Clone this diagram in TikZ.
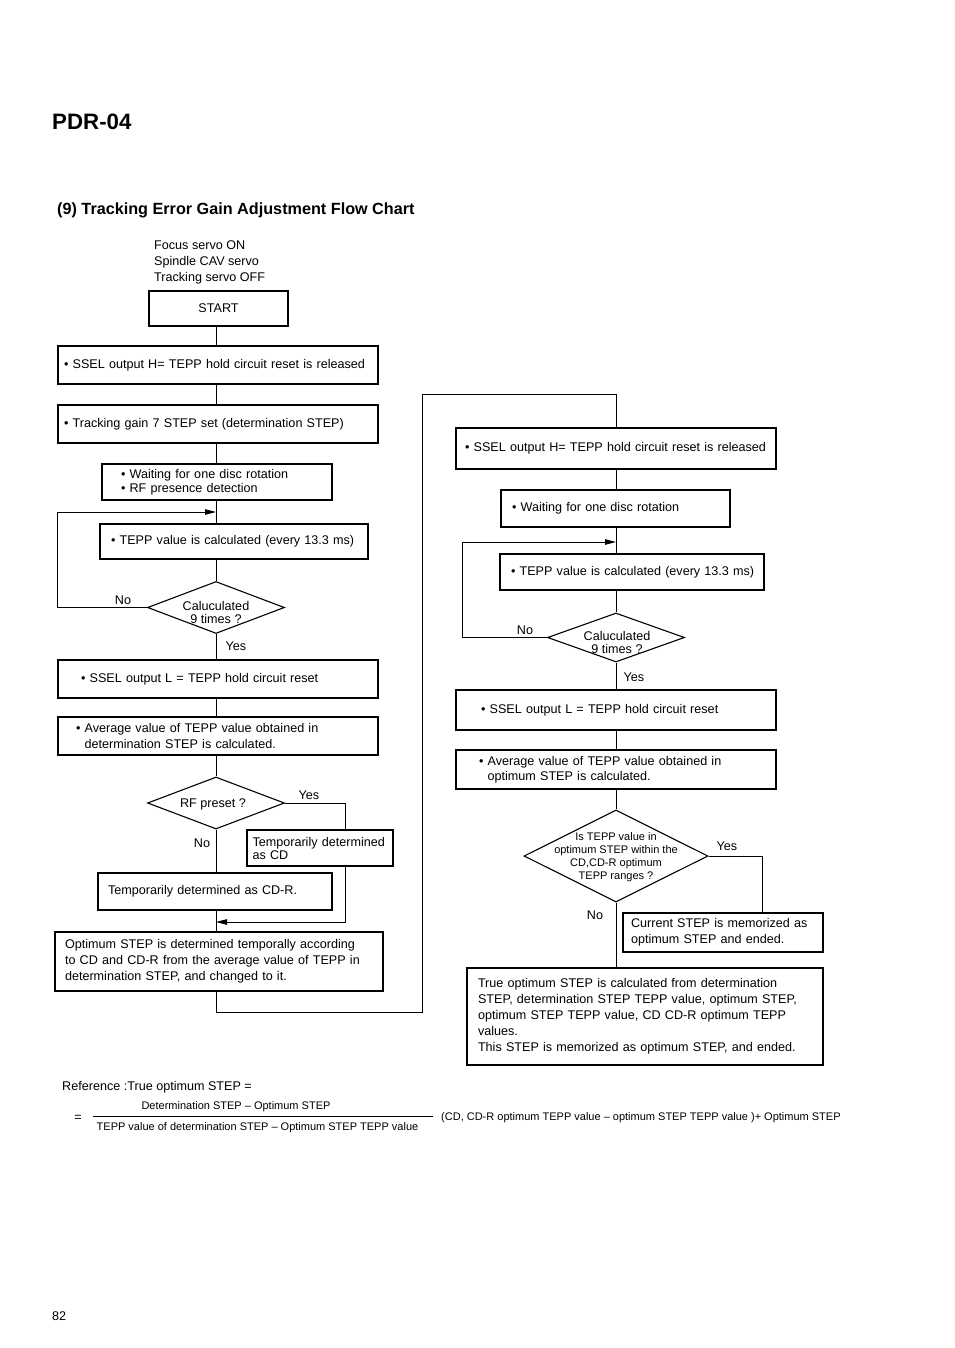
\documentclass[tikz,border=0pt]{standalone}
\usepackage{fontspec}
\setmainfont{Liberation Sans}
\usetikzlibrary{arrows.meta,shapes.geometric}
\newcommand{\fsm}{\fontsize{12.6}{15.5}\selectfont}
\newcommand{\fsmall}{\fontsize{11}{13}\selectfont}
\begin{document}
\begin{tikzpicture}[x=1pt,y=-1pt,
  box/.style={draw, line width=1.1pt, inner ysep=0pt, align=left, font=\fsm},
  dia/.style={draw, diamond, line width=1.1pt, inner sep=0pt},
  lbl/.style={font=\fsm, inner sep=0pt},
  conn/.style={line width=1pt},
  arr/.style={line width=1pt, -{Triangle[length=11pt,width=5.5pt]}}
]
\useasboundingbox[fill=white] (0,0) rectangle (954,1348);

% header
\node[anchor=west, inner sep=0pt, font=\fontsize{22.3}{25}\selectfont\bfseries] (pdr) at (52,122) {PDR-04};
\node[anchor=west, inner sep=0pt, font=\fontsize{16.2}{19}\selectfont\bfseries] (ttl) at (57,210) {(9) Tracking Error Gain Adjustment Flow Chart};
\node[anchor=west, inner sep=0pt, align=left, font=\fontsize{12.6}{16}\selectfont] (cond) at (154,262) {Focus servo ON\\Spindle CAV servo\\Tracking servo OFF};

% spines
\coordinate (sp) at (216,0);
\coordinate (sp2) at (616,0);

% left column
\node[box, align=center, minimum width=139pt, minimum height=35pt, inner sep=0pt] (start) at (218.5,308.5) {START};
\node[box, text width=308pt, inner xsep=6pt, minimum height=38pt] (sh1) at (218,365) {\mbox{• SSEL output H= TEPP hold circuit reset is released}};
\node[box, text width=308pt, inner xsep=6pt, minimum height=38pt] (tg) at (218,424) {\mbox{• Tracking gain 7 STEP set (determination STEP)}};
\node[box, text width=192pt, inner xsep=19pt, minimum height=36pt, font=\fontsize{12.6}{14}\selectfont] (wt1) at (217,482) {• Waiting for one disc rotation\\• RF presence detection};
\node[box, text width=246pt, inner xsep=11pt, minimum height=35pt] (tp1) at (234,541.5) {\mbox{• TEPP value is calculated (every 13.3 ms)}};
\node[dia, minimum width=137pt, minimum height=52pt] (d1) at (216,607.5) {};
\node[lbl, align=center, font=\fontsize{12.6}{13}\selectfont] (d1t) at (216,612) {Caluculated\\9 times ?};
\node[box, text width=274pt, inner xsep=23pt, minimum height=38pt] (sl1) at (218,679) {\mbox{• SSEL output L = TEPP hold circuit reset}};
\node[box, text width=284pt, inner xsep=18pt, minimum height=38pt, font=\fontsize{12.6}{16}\selectfont] (av1) at (218,736) {• Average value of TEPP value obtained in\\\phantom{• }determination STEP is calculated.};
\node[dia, minimum width=137pt, minimum height=52pt] (d2) at (216,803) {};
\node[lbl] (d2t) at (213,804) {RF preset ?};
\node[box, text width=214pt, inner xsep=10pt, minimum height=37pt] (cdr) at (215,891.5) {\mbox{Temporarily determined as CD-R.}};
\node[box, text width=308pt, inner xsep=10pt, minimum height=59pt, font=\fontsize{12.6}{16}\selectfont] (op) at (219,961.5) {Optimum STEP is determined temporally according\\to CD and CD-R from the average value of TEPP in\\determination STEP, and changed to it.};

% left connectors
\draw[conn] (start.south -| sp) -- (sh1.north -| sp);
\draw[conn] (sh1.south -| sp) -- (tg.north -| sp);
\draw[conn] (tg.south -| sp) -- (wt1.north -| sp);
\draw[conn] (wt1.south -| sp) -- (tp1.north -| sp);
\draw[conn] (tp1.south -| sp) -- (d1.north);
\draw[conn] (d1.south) -- (sl1.north -| sp);
\draw[conn] (sl1.south -| sp) -- (av1.north -| sp);
\draw[conn] (av1.south -| sp) -- (d2.north);
\draw[conn] (d2.south) -- (cdr.north -| sp);
\draw[conn] (cdr.south -| sp) -- (op.north -| sp);
\coordinate (lpL) at (57,512);
\draw[arr] (d1.west) -| (lpL) -- (lpL -| sp);
\coordinate (yr) at (345,922);
\draw[arr] (d2.east) -| (yr) -- (yr -| sp);
\node[box, fill=white, text width=135pt, inner xsep=5.5pt, minimum height=36pt, font=\fontsize{12.6}{13}\selectfont] (cd) at (320,848) {Temporarily determined\\as CD};

% right column
\node[box, text width=302pt, inner xsep=9pt, minimum height=41pt] (sh2) at (616,448.5) {\mbox{• SSEL output H= TEPP hold circuit reset is released}};
\node[box, text width=207pt, inner xsep=11pt, minimum height=37pt] (wt2) at (615.5,508.5) {\mbox{• Waiting for one disc rotation}};
\node[box, text width=242pt, inner xsep=11pt, minimum height=36pt] (tp2) at (632,572) {\mbox{• TEPP value is calculated (every 13.3 ms)}};
\node[dia, minimum width=137pt, minimum height=49pt] (d3) at (616,637.5) {};
\node[lbl, align=center, font=\fontsize{12.6}{13}\selectfont] (d3t) at (617,642) {Caluculated\\9 times ?};
\node[box, text width=270pt, inner xsep=25pt, minimum height=40pt] (sl2) at (616,710) {\mbox{• SSEL output L = TEPP hold circuit reset}};
\node[box, text width=274pt, inner xsep=23pt, minimum height=39pt, font=\fontsize{12.6}{15}\selectfont] (av2) at (616,769.5) {• Average value of TEPP value obtained in\\\phantom{• }optimum STEP is calculated.};
\node[dia, minimum width=184pt, minimum height=92pt] (d4) at (616,856) {};
\node[lbl, align=center, font=\fontsize{11}{13}\selectfont] (d4t) at (616,857.5) {Is TEPP value in\\optimum STEP within the\\CD,CD-R optimum\\TEPP ranges ?};
\node[box, text width=184pt, inner xsep=8pt, minimum height=39pt, font=\fontsize{12.6}{16}\selectfont] (cur) at (723,932.5) {Current STEP is memorized as\\optimum STEP and ended.};
\node[box, text width=334pt, inner xsep=11pt, minimum height=97pt, font=\fontsize{12.6}{16}\selectfont] (tru) at (645,1016.5) {True optimum STEP is calculated from determination\\STEP, determination STEP TEPP value, optimum STEP,\\optimum STEP TEPP value, CD CD-R optimum TEPP\\values.\\This STEP is memorized as optimum STEP, and ended.};

% right connectors
\coordinate (rb) at (422,1012);
\coordinate (rt) at (422,394);
\draw[conn] (op.south -| sp) |- (rb) -- (rt) -| (sh2.north -| sp2);
\draw[conn] (sh2.south -| sp2) -- (wt2.north -| sp2);
\draw[conn] (wt2.south -| sp2) -- (tp2.north -| sp2);
\draw[conn] (tp2.south -| sp2) -- (d3.north);
\draw[conn] (d3.south) -- (sl2.north -| sp2);
\draw[conn] (sl2.south -| sp2) -- (av2.north -| sp2);
\draw[conn] (av2.south -| sp2) -- (d4.north);
\draw[conn] (d4.south) -- (tru.north -| sp2);
\coordinate (lpR) at (462,542);
\draw[arr] (d3.west) -| (lpR) -- (lpR -| sp2);
\coordinate (yc) at (762,0);
\draw[conn] (d4.east) -| (cur.north -| yc);

% labels
\node[lbl] (n1) at (123,600) {No};
\node[lbl] (y1) at (236,646) {Yes};
\node[lbl] (y2) at (309,795) {Yes};
\node[lbl] (n2) at (202,843) {No};
\node[lbl] (n3) at (525,630) {No};
\node[lbl] (y3) at (634,677) {Yes};
\node[lbl] (y4) at (727,846) {Yes};
\node[lbl] (n4) at (595,915) {No};

% formula
\node[lbl, anchor=west] (ref) at (62,1087) {Reference :True optimum STEP =};
\node[lbl] (eq) at (78,1118) {=};
\draw[line width=0.8pt] (93,1116) -- (433,1116);
\node[lbl, font=\fsmall] (num) at (236,1107) {Determination STEP – Optimum STEP};
\node[lbl, font=\fsmall] (den) at (257.5,1128) {TEPP value of determination STEP – Optimum STEP TEPP value};
\node[lbl, font=\fsmall, anchor=west] (rest) at (441,1118) {(CD, CD-R optimum TEPP value – optimum STEP TEPP value )+ Optimum STEP};
\node[lbl, anchor=west] (pg) at (52,1316) {82};
\end{tikzpicture}
\end{document}
